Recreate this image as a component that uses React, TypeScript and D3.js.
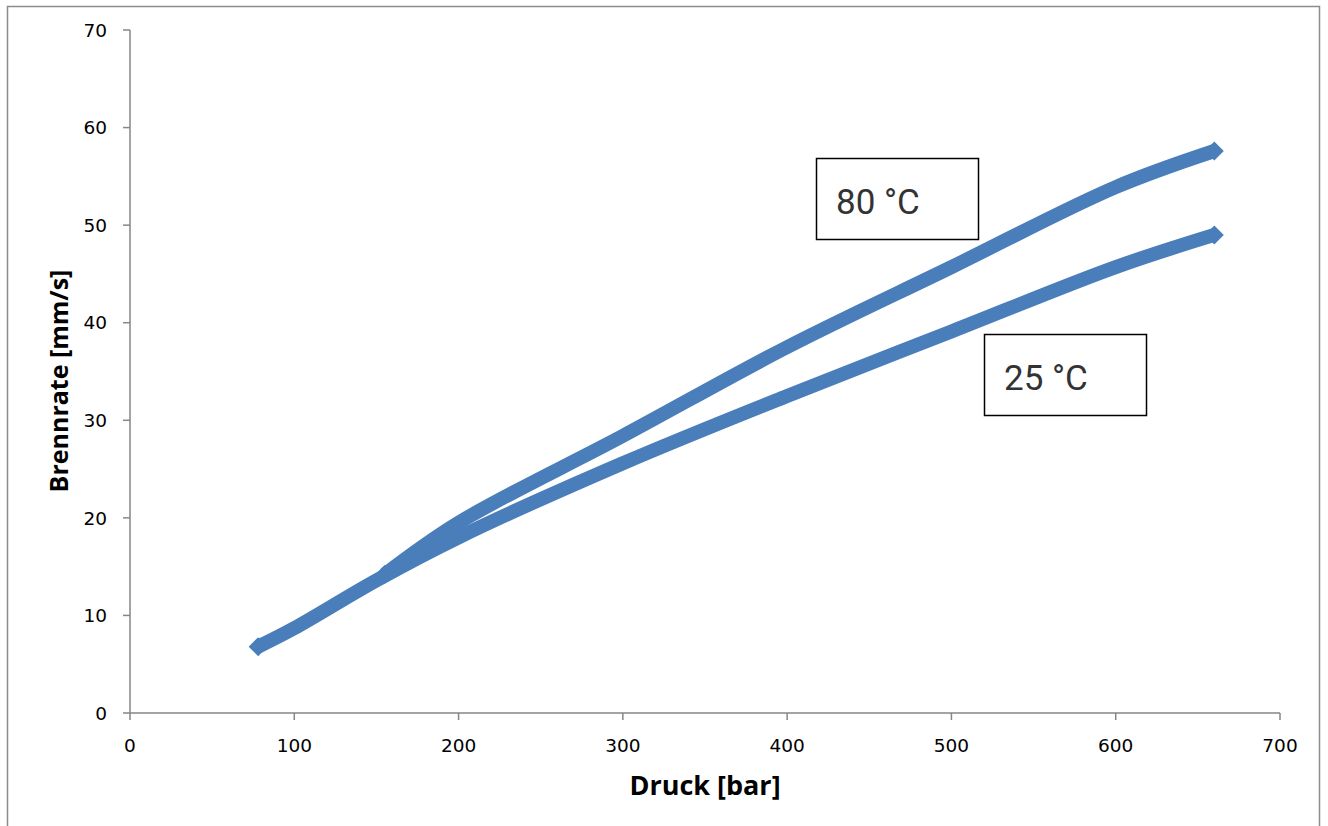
import React from "react";
import * as d3 from "d3";

// Burn rate vs. pressure at two propellant temperatures
const pressure80 = [155, 200, 300, 400, 500, 600, 660];
const rate80 = [14.2, 19.5, 28.4, 37.5, 45.7, 53.9, 57.6];
const pressure25 = [78, 100, 150, 200, 300, 400, 500, 600, 660];
const rate25 = [6.8, 8.7, 13.6, 18.0, 25.6, 32.5, 39.1, 45.7, 49.0];

const xTicks = [0, 100, 200, 300, 400, 500, 600, 700];
const yTicks = [0, 10, 20, 30, 40, 50, 60, 70];

const seriesLabels = ["80 °C", "25 °C"];

const W = 1328;
const H = 826;
const LINE = "#4A7EBB";
const AXIS = "#868686";

export default function App() {
  const x = d3.scaleLinear().domain([0, 700]).range([130, 1280]);
  const y = d3.scaleLinear().domain([0, 70]).range([713, 30]);

  const s80: [number, number][] = pressure80.map((p, i) => [p, rate80[i]]);
  const s25: [number, number][] = pressure25.map((p, i) => [p, rate25[i]]);

  const line = d3
    .line<[number, number]>()
    .x((d) => x(d[0]))
    .y((d) => y(d[1]))
    .curve(d3.curveCatmullRom.alpha(0.5));

  const diamond = (d: [number, number], key: string) => {
    const cx = x(d[0]);
    const cy = y(d[1]);
    const r = 9.5;
    return (
      <path
        key={key}
        d={`M${cx - r},${cy}L${cx},${cy - r}L${cx + r},${cy}L${cx},${cy + r}Z`}
        fill={LINE}
      />
    );
  };

  const tickFont = "'DejaVu Sans', Verdana, sans-serif";

  return (
    <svg
      width={W}
      height={H}
      style={{ position: "absolute", left: 0, top: 0, background: "#fff" }}
    >
      <rect x={7.5} y={6.5} width={1312} height={840} fill="#fff" stroke="#8c8c8c" strokeWidth={1.5} />

      {/* axes */}
      <line x1={x(0)} x2={x(0)} y1={y(70)} y2={y(0)} stroke={AXIS} strokeWidth={1.5} />
      <line x1={x(0)} x2={x(700)} y1={y(0)} y2={y(0)} stroke={AXIS} strokeWidth={1.5} />
      {yTicks.map((t) => (
        <g key={"y" + t}>
          <line x1={x(0) - 7} x2={x(0)} y1={y(t)} y2={y(t)} stroke={AXIS} strokeWidth={1.5} />
          <text
            x={107}
            y={y(t)}
            dy="0.36em"
            textAnchor="end"
            fontFamily={tickFont}
            fontSize={18.5}
            fill="#000"
          >
            {t}
          </text>
        </g>
      ))}
      {xTicks.map((t) => (
        <g key={"x" + t}>
          <line x1={x(t)} x2={x(t)} y1={y(0)} y2={y(0) + 7} stroke={AXIS} strokeWidth={1.5} />
          <text
            x={x(t)}
            y={752}
            textAnchor="middle"
            fontFamily={tickFont}
            fontSize={18.5}
            fill="#000"
          >
            {t}
          </text>
        </g>
      ))}

      <text
        x={705}
        y={795}
        textAnchor="middle"
        fontFamily="'Open Sans', sans-serif"
        fontWeight={700}
        fontSize={27}
        fill="#000"
      >
        Druck [bar]
      </text>
      <text
        transform={`translate(68,381) rotate(-90)`}
        textAnchor="middle"
        fontFamily="'Open Sans', sans-serif"
        fontWeight={700}
        fontSize={25}
        fill="#000"
      >
        Brennrate [mm/s]
      </text>

      {/* curves */}
      <path d={line(s25) ?? ""} fill="none" stroke={LINE} strokeWidth={14} strokeLinejoin="round" />
      <path d={line(s80) ?? ""} fill="none" stroke={LINE} strokeWidth={14} strokeLinejoin="round" />
      {diamond(s25[0], "d0")}
      {diamond(s25[s25.length - 1], "d1")}
      {diamond(s80[0], "d2")}
      {diamond(s80[s80.length - 1], "d3")}

      {/* series labels */}
      <rect x={816.5} y={158.5} width={162} height={81} fill="#fff" stroke="#000" strokeWidth={1.5} />
      <text x={836} y={214} fontFamily="Roboto, sans-serif" fontSize={35} fill="#333">
        {seriesLabels[0]}
      </text>
      <rect x={984.5} y={334.5} width={162} height={81} fill="#fff" stroke="#000" strokeWidth={1.5} />
      <text x={1004} y={390} fontFamily="Roboto, sans-serif" fontSize={35} fill="#333">
        {seriesLabels[1]}
      </text>
    </svg>
  );
}
